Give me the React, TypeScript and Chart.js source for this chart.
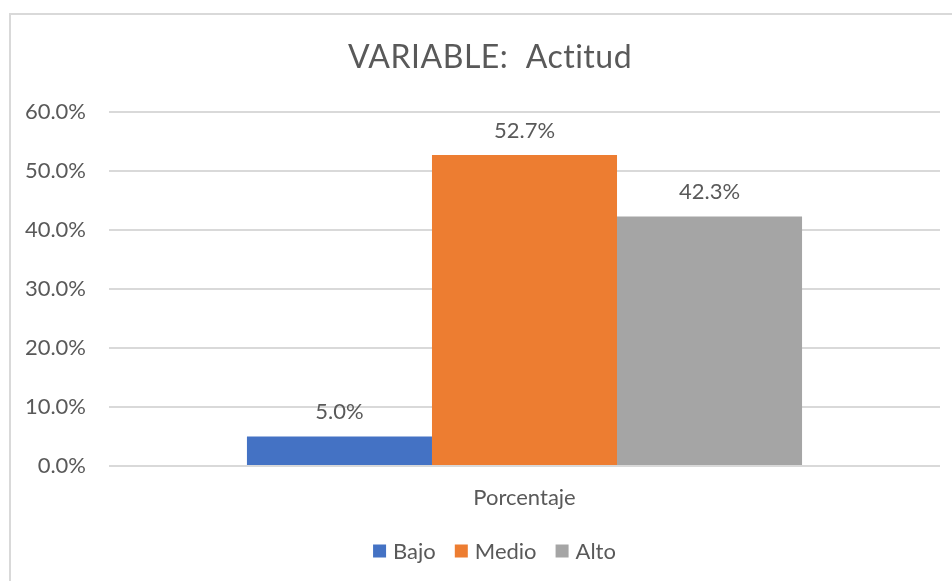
import React, { useEffect, useRef } from "react";
import { Chart, registerables } from "chart.js";

Chart.register(...registerables);

const categories = ["Porcentaje"];
const seriesNames = ["Bajo", "Medio", "Alto"];
const seriesValues = [[5.0], [52.7], [42.3]];
const seriesColors = ["#4472C4", "#ED7D31", "#A5A5A5"];
const titleText = "VARIABLE:  Actitud";

const FONT = "Lato, 'Open Sans', sans-serif";
const TEXT = "#595959";

const decorPlugin = {
  id: "decor",
  beforeDraw(chart: any) {
    const ctx = chart.ctx;
    ctx.save();
    ctx.fillStyle = "#ffffff";
    ctx.fillRect(0, 0, chart.width, chart.height);
    ctx.strokeStyle = "#d9d9d9";
    ctx.lineWidth = 2;
    ctx.strokeRect(10, 14, 970, 600);
    ctx.restore();
  },
  afterDraw(chart: any) {
    const ctx = chart.ctx;
    ctx.save();
    ctx.fillStyle = TEXT;
    ctx.textAlign = "center";
    ctx.textBaseline = "middle";
    ctx.font = `32px ${FONT}`;
    (ctx as any).letterSpacing = "0.5px";
    ctx.fillText(titleText, 490, 58);
    (ctx as any).letterSpacing = "0px";

    // legend
    ctx.font = `22px ${FONT}`;
    const box = 13, gapBoxText = 7, gapItem = 19;
    const widths = seriesNames.map((n) => ctx.measureText(n).width);
    let total = 0;
    widths.forEach((w, i) => {
      total += box + gapBoxText + w + (i < widths.length - 1 ? gapItem : 0);
    });
    let x = 494.5 - total / 2;
    const yc = 551;
    ctx.textAlign = "left";
    seriesNames.forEach((n, i) => {
      ctx.fillStyle = seriesColors[i];
      ctx.fillRect(x, yc - box / 2, box, box);
      x += box + gapBoxText;
      ctx.fillStyle = TEXT;
      ctx.fillText(n, x, yc + 1);
      x += widths[i] + gapItem;
    });

    // data labels
    ctx.textAlign = "center";
    ctx.font = `22px ${FONT}`;
    chart.data.datasets.forEach((ds: any, di: number) => {
      const meta = chart.getDatasetMeta(di);
      meta.data.forEach((bar: any, j: number) => {
        const v = ds.data[j];
        ctx.fillText(v.toFixed(1) + "%", bar.x, bar.y - 24.5);
      });
    });
    ctx.restore();
  },
};

export default function App() {
  const ref = useRef<HTMLCanvasElement>(null);
  useEffect(() => {
    if (!ref.current) return;
    const chart = new Chart(ref.current, {
      type: "bar",
      data: {
        labels: categories,
        datasets: seriesNames.map((n, i) => ({
          label: n,
          data: seriesValues[i],
          backgroundColor: seriesColors[i],
          borderWidth: 0,
          categoryPercentage: 0.668,
          barPercentage: 1,
        })),
      },
      options: {
        animation: false,
        responsive: false,
        maintainAspectRatio: false,
        layout: { padding: { top: 112, right: 12, left: 0, bottom: 65 } },
        plugins: {
          legend: { display: false },
          title: { display: false },
          tooltip: { enabled: false },
        },
        scales: {
          x: {
            grid: { display: false, drawTicks: false },
            border: { display: false },
            ticks: { color: TEXT, font: { family: FONT, size: 22 }, padding: 19 },
            afterFit: (s: any) => { s.height = 50; },
          },
          y: {
            min: 0,
            max: 60,
            grid: { color: "#d9d9d9", lineWidth: 2, drawTicks: false },
            border: { display: false },
            ticks: {
              stepSize: 10,
              color: TEXT,
              font: { family: FONT, size: 22 },
              padding: 23,
              callback: (v: any) => Number(v).toFixed(1) + "%",
            },
            afterFit: (s: any) => { s.width = 109; },
          },
        },
      },
      plugins: [decorPlugin],
    });
    return () => chart.destroy();
  }, []);
  return (
    <div style={{ position: "absolute", left: 0, top: 0, width: 952, height: 581 }}>
      <canvas ref={ref} width={952} height={581} style={{ display: "block" }} />
    </div>
  );
}
